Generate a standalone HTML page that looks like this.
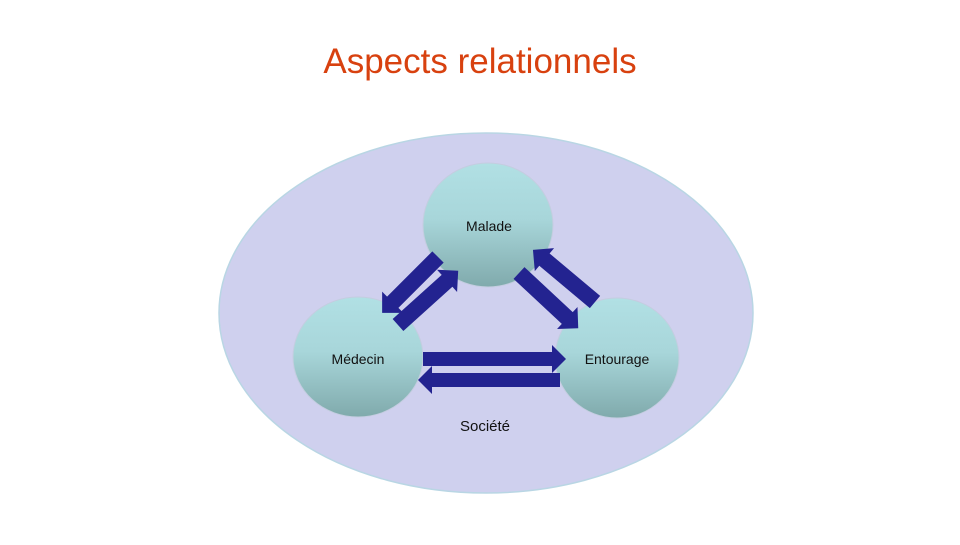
<!DOCTYPE html>
<html><head><meta charset="utf-8"><style>
html,body{margin:0;padding:0;background:#fff;}
body{width:960px;height:540px;overflow:hidden;}
</style></head><body>
<svg width="960" height="540" viewBox="0 0 960 540" xmlns="http://www.w3.org/2000/svg">
<defs>
<linearGradient id="cg" x1="0" y1="0" x2="0" y2="1">
<stop offset="0" stop-color="#b1e0e4"/><stop offset="0.45" stop-color="#a8d6da"/><stop offset="1" stop-color="#80aaac"/>
</linearGradient>
</defs>
<text x="480" y="73" text-anchor="middle" font-family="Liberation Sans, sans-serif" font-size="35" fill="#d8410f">Aspects relationnels</text>
<ellipse cx="486" cy="313" rx="267" ry="180" fill="#cfd0ee" stroke="#b9d6e4" stroke-width="1.5"/>
<g fill="url(#cg)" stroke="#c4cde0" stroke-width="1">
<ellipse cx="488" cy="225" rx="65" ry="62"/>
<ellipse cx="358" cy="357" rx="65" ry="60"/>
<ellipse cx="617" cy="358" rx="62" ry="60"/>
</g>
<g fill="#232390">
<g transform="translate(438,257) rotate(135)"><polygon points="0,-8 64,-8 64,-15 79,0 64,15 64,8 0,8"/></g>
<g transform="translate(398,325) rotate(-42)"><polygon points="0,-8 66,-8 66,-15 81,0 66,15 66,8 0,8"/></g>
<g transform="translate(519,273) rotate(43)"><polygon points="0,-8 66,-8 66,-15 81,0 66,15 66,8 0,8"/></g>
<g transform="translate(595,302) rotate(220)"><polygon points="0,-8 66,-8 66,-15 81,0 66,15 66,8 0,8"/></g>
<g transform="translate(423,359)"><polygon points="0,-7 129,-7 129,-14 143,0 129,14 129,7 0,7"/></g>
<g transform="translate(560,380) rotate(180)"><polygon points="0,-7 128,-7 128,-14 142,0 128,14 128,7 0,7"/></g>
</g>
<g font-family="Liberation Sans, sans-serif" font-size="14" fill="#111" text-anchor="middle">
<text x="489" y="231">Malade</text>
<text x="358" y="364">Médecin</text>
<text x="617" y="364">Entourage</text>
<text x="485" y="431" font-size="15">Société</text>
</g>
</svg>
</body></html>
